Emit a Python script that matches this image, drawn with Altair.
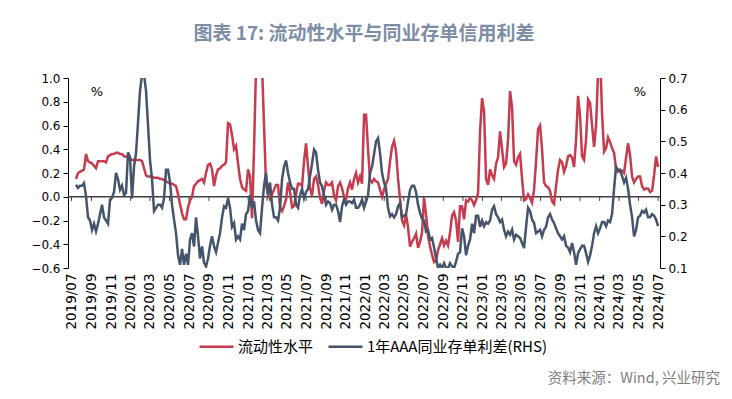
import altair as alt
import pandas as pd

title_text = "图表 17: 流动性水平与同业存单信用利差"
red_name = "流动性水平"
blue_name = "1年AAA同业存单利差(RHS)"
source_text = "资料来源：Wind, 兴业研究"

start_date = "2019-07-15"
end_date = "2024-07-01"

tick_labels = [
    "2019/07", "2019/09", "2019/11", "2020/01", "2020/03", "2020/05", "2020/07",
    "2020/09", "2020/11", "2021/01", "2021/03", "2021/05", "2021/07", "2021/09",
    "2021/11", "2022/01", "2022/03", "2022/05", "2022/07", "2022/09", "2022/11",
    "2023/01", "2023/03", "2023/05", "2023/07", "2023/09", "2023/11", "2024/01",
    "2024/03", "2024/05", "2024/07",
]
left_ticks = [-0.6, -0.4, -0.2, 0.0, 0.2, 0.4, 0.6, 0.8, 1.0]
right_ticks = [0.1, 0.2, 0.3, 0.4, 0.5, 0.6, 0.7]

liquidity = [
    0.15, 0.20, 0.21, 0.22, 0.23, 0.36, 0.30, 0.29, 0.28, 0.26,
    0.24, 0.30, 0.30, 0.30, 0.30, 0.29, 0.34, 0.35, 0.36, 0.36,
    0.37, 0.37, 0.36, 0.36, 0.34, 0.34, 0.33, 0.32, 0.31, 0.31,
    0.31, 0.31, 0.31, 0.30, 0.24, 0.18, 0.17, 0.17, 0.17, 0.16,
    0.16, 0.16, 0.15, 0.15, 0.14, 0.13,
    0.12, 0.11, 0.11, 0.10, 0.09, 0.02, -0.06, -0.14, -0.19, -0.19,
    -0.09, -0.03, 0.00, 0.09, 0.11, 0.13, 0.14, 0.15, 0.12, 0.20,
    0.27, 0.28, 0.23, 0.09, 0.18, 0.23, 0.24, 0.26, 0.27, 0.29,
    0.62, 0.61, 0.52, 0.40, 0.43, 0.28, 0.15, 0.08, 0.06, 0.05,
    0.23, 0.17, -0.18, 0.40, 1.10, 1.30, 1.30, 1.10,
    0.60, 0.10, 0.02, -0.02, 0.02, 0.06, 0.10, 0.10, -0.09, -0.12,
    -0.08, -0.02, 0.12, 0.04, -0.09, -0.08, 0.02, 0.11, 0.11, 0.09,
    0.30, 0.45, 0.25, 0.07, 0.01, 0.15, 0.17, 0.10, -0.01, -0.06,
    0.05, 0.12, 0.10, 0.10, 0.12, 0.01, -0.03, 0.09, 0.12, 0.07,
    0.00, -0.02, 0.07, 0.12, 0.06, 0.15, 0.20, 0.12, 0.17, 0.11,
    0.69, 0.69, 0.40, 0.14, 0.12, 0.15, 0.13, 0.12, 0.06, 0.00,
    0.06, 0.11, 0.15, 0.30, 0.42, 0.47, 0.38, 0.15, -0.02, -0.20,
    -0.24, -0.15, -0.26, -0.42, -0.38, -0.35, -0.31, -0.43, -0.38, -0.30,
    -0.01, -0.15, -0.33, -0.42, -0.49, -0.55, -0.54, -0.45, -0.40, -0.35,
    -0.41, -0.37, -0.41, -0.30, -0.16, -0.13, -0.20, -0.38, -0.08,
    -0.08, -0.19, -0.03, -0.04, -0.01, -0.03, -0.07, -0.03, 0.03, 0.55,
    0.83, 0.72, 0.15, 0.10, 0.23, 0.18, 0.15, 0.28, 0.33, 0.55,
    0.40, 0.25, 0.28, 0.48, 0.89, 0.75, 0.30, 0.27, 0.33, 0.36,
    0.15, -0.03, -0.02, 0.02, -0.01, -0.05, 0.06, 0.30, 0.57, 0.60,
    0.40, 0.12, 0.09, 0.08, 0.05, -0.04, -0.06, 0.09, 0.23,
    0.31, 0.29, 0.21, 0.26, 0.34, 0.35, 0.33, 0.25, 0.48, 0.85,
    0.68, 0.34, 0.31, 0.48, 0.82, 0.79, 0.60, 0.42, 0.60, 1.05,
    1.20, 0.70, 0.38, 0.41, 0.50, 0.46, 0.41, 0.37, 0.23, 0.21,
    0.22, 0.22, 0.20, 0.33, 0.45, 0.35, 0.17, 0.12, 0.15, 0.17,
    0.17, 0.09, 0.06, 0.07, 0.07, 0.04, 0.05, 0.18, 0.34, 0.25,
]

spread = [
    0.363, 0.353, 0.36, 0.36, 0.368, 0.326, 0.26, 0.25, 0.22, 0.24,
    0.216, 0.24, 0.27, 0.30, 0.26, 0.25, 0.24, 0.316, 0.321, 0.34,
    0.40, 0.38, 0.347, 0.36, 0.33, 0.337, 0.465, 0.45, 0.32, 0.42,
    0.463, 0.56, 0.66, 0.71, 0.71, 0.66, 0.55, 0.44, 0.38, 0.28,
    0.29, 0.30, 0.30, 0.29, 0.32, 0.41,
    0.41, 0.37, 0.30, 0.253, 0.21, 0.14, 0.11, 0.16, 0.11, 0.145,
    0.11, 0.19, 0.21, 0.168, 0.26, 0.20, 0.13, 0.168, 0.116, 0.105,
    0.13, 0.17, 0.20, 0.168, 0.15, 0.18, 0.21, 0.26, 0.295, 0.29,
    0.32, 0.29, 0.23, 0.242, 0.19, 0.20, 0.19, 0.24, 0.22, 0.27,
    0.28, 0.33, 0.29, 0.31, 0.25, 0.22, 0.21, 0.29,
    0.36, 0.40, 0.33, 0.37, 0.30, 0.26, 0.26, 0.25, 0.29, 0.38,
    0.42, 0.44, 0.40, 0.37, 0.35, 0.35, 0.30, 0.29, 0.33, 0.35,
    0.32, 0.34, 0.35, 0.39, 0.43, 0.474, 0.465, 0.41, 0.37, 0.358,
    0.33, 0.30, 0.31, 0.305, 0.284, 0.30, 0.30, 0.28, 0.245, 0.295,
    0.316, 0.30, 0.31, 0.31, 0.305, 0.316, 0.29, 0.29, 0.30, 0.316,
    0.29, 0.31, 0.33, 0.40, 0.42, 0.46, 0.50, 0.51, 0.463, 0.40,
    0.37, 0.35, 0.29, 0.263, 0.27, 0.26, 0.27, 0.295, 0.305, 0.26,
    0.265, 0.27, 0.31, 0.347, 0.36, 0.36, 0.34, 0.30, 0.274, 0.255,
    0.25, 0.215, 0.22, 0.19, 0.195, 0.165, 0.13, 0.10, 0.11, 0.10,
    0.115, 0.10, 0.10, 0.115, 0.105, 0.10, 0.12, 0.145, 0.15,
    0.225, 0.20, 0.14, 0.17, 0.19, 0.24, 0.21, 0.265, 0.265, 0.23,
    0.25, 0.232, 0.245, 0.24, 0.25, 0.284, 0.295, 0.27, 0.26, 0.245,
    0.253, 0.221, 0.20, 0.215, 0.205, 0.221, 0.19, 0.205, 0.20, 0.195,
    0.179, 0.163, 0.23, 0.29, 0.28, 0.253, 0.242, 0.21, 0.215, 0.221,
    0.20, 0.221, 0.23, 0.26, 0.27, 0.253, 0.242, 0.225, 0.21,
    0.20, 0.19, 0.20, 0.17, 0.165, 0.15, 0.179, 0.15, 0.11, 0.147,
    0.16, 0.17, 0.17, 0.147, 0.12, 0.14, 0.17, 0.21, 0.232, 0.21,
    0.225, 0.245, 0.245, 0.232, 0.25, 0.245, 0.27, 0.35, 0.42, 0.41,
    0.41, 0.39, 0.37, 0.385, 0.35, 0.30, 0.26, 0.20, 0.22, 0.26,
    0.265, 0.28, 0.275, 0.284, 0.26, 0.26, 0.27, 0.265, 0.253, 0.232,
]

red_color = "#C63B4E"
blue_color = "#44546A"

df = pd.concat([
    pd.DataFrame({"date": pd.date_range(start_date, end_date, periods=len(liquidity)),
                  "value": liquidity, "series": red_name}),
    pd.DataFrame({"date": pd.date_range(start_date, end_date, periods=len(spread)),
                  "value": spread, "series": blue_name}),
], ignore_index=True)

tick_dates = [alt.DateTime(year=int(s[:4]), month=int(s[5:]), date=1) for s in tick_labels]
tick_df = pd.DataFrame({
    "date": [pd.Timestamp(int(s[:4]), int(s[5:]), 1) for s in tick_labels],
    "y0": 0.0,
    "y1": -0.035,
})

x_enc = alt.X(
    "date:T",
    scale=alt.Scale(domain=[alt.DateTime(year=2019, month=6, date=20),
                            alt.DateTime(year=2024, month=7, date=7)]),
    axis=alt.Axis(values=tick_dates, format="%Y/%m", labelAngle=270, title=None,
                  domain=False, ticks=False, grid=False, labelPadding=5,
                  labelFont="DejaVu Sans", labelFontSize=13.5, labelColor="black",
                  labelOverlap=False, labelFlush=False),
)

left_scale = alt.Scale(domain=[-0.6, 1.0], nice=False, zero=False)
right_scale = alt.Scale(domain=[0.1, 0.7], nice=False, zero=False)

color_enc = alt.Color(
    "series:N",
    scale=alt.Scale(domain=[red_name, blue_name], range=[red_color, blue_color]),
    legend=alt.Legend(orient="none", legendX=130, legendY=250, direction="horizontal",
                      title=None, symbolType="stroke", symbolSize=1156,
                      symbolStrokeWidth=2.5, labelFont="Noto Sans CJK SC",
                      labelFontSize=15, labelColor="black", columnPadding=9,
                      labelOffset=3, padding=0, labelLimit=0),
)

zero_line = alt.Chart(pd.DataFrame({"v": [0.0]})).mark_rule(
    color="#404040", strokeWidth=1.3
).encode(y=alt.Y("v:Q", scale=left_scale, axis=None))

zero_ticks = alt.Chart(tick_df).mark_rule(color="#404040", strokeWidth=1).encode(
    x=x_enc,
    y=alt.Y("y0:Q", scale=left_scale, axis=None),
    y2="y1:Q",
)

red_line = alt.Chart(df).transform_filter(alt.datum.series == red_name).mark_line(
    strokeWidth=2.5, clip=True
).encode(
    x=x_enc,
    y=alt.Y("value:Q", scale=left_scale,
            axis=alt.Axis(values=left_ticks, format=".1f", orient="left", grid=False,
                          title=None, tickSize=5, domainColor="black", tickColor="black",
                          labelColor="black", labelFont="DejaVu Sans", labelFontSize=12,
                          labelPadding=3, labelFlush=False)),
    color=color_enc,
)

blue_line = alt.Chart(df).transform_filter(alt.datum.series == blue_name).mark_line(
    strokeWidth=2.5, clip=True
).encode(
    x=x_enc,
    y=alt.Y("value:Q", scale=right_scale,
            axis=alt.Axis(values=right_ticks, format=".1f", orient="right", grid=False,
                          title=None, tickSize=5, domainColor="black", tickColor="black",
                          labelColor="black", labelFont="DejaVu Sans", labelFontSize=12,
                          labelPadding=3, labelFlush=False)),
    color=color_enc,
)

pct_left = alt.Chart(pd.DataFrame({"t": ["%"]})).mark_text(
    font="DejaVu Sans", fontSize=13, color="black"
).encode(text="t:N", x=alt.value(29), y=alt.value(14))

pct_right = alt.Chart(pd.DataFrame({"t": ["%"]})).mark_text(
    font="DejaVu Sans", fontSize=13, color="black"
).encode(text="t:N", x=alt.value(572), y=alt.value(14))

source = alt.Chart(pd.DataFrame({"t": [source_text]})).mark_text(
    font="Noto Sans CJK SC", fontSize=14.5, color="#7f7f7f", align="right", baseline="middle"
).encode(text="t:N", x=alt.value(652), y=alt.value(301))

chart = alt.layer(
    zero_line, zero_ticks, red_line, blue_line, pct_left, pct_right, source
).resolve_scale(
    y="independent"
).properties(
    width=592,
    height=190,
    title=alt.Title(title_text, anchor="middle", fontSize=19, fontWeight="bold",
                    color="#7d8da5", font="Noto Sans CJK SC", offset=28),
    autosize=alt.AutoSizeParams(type="none"),
    padding={"left": 60, "top": 70, "right": 64, "bottom": 120},
).configure_view(stroke=None)

chart.save("out.html", embed_options={"renderer": "svg", "actions": False})
